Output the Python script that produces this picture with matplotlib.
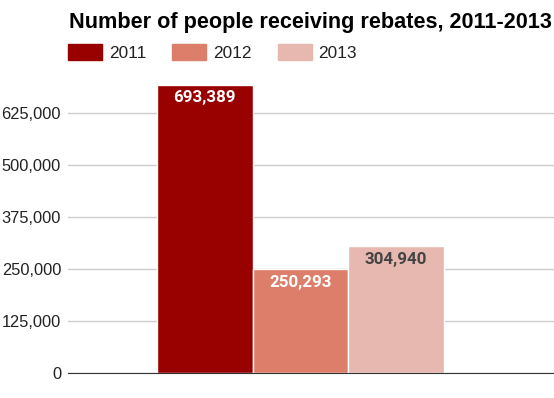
import matplotlib
matplotlib.use('Agg')
import matplotlib.pyplot as plt
from matplotlib.ticker import FuncFormatter

years = ['2011', '2012', '2013']
people = [693389, 250293, 304940]
colors = ['#990000', '#dd7e6b', '#e6b8af']
label_colors = ['white', 'white', '#444444']
yticks = [0, 125000, 250000, 375000, 500000, 625000]

plt.rcParams['font.family'] = ['Liberation Sans', 'DejaVu Sans']

fig = plt.figure(figsize=(5.54, 3.98), dpi=100)
ax = fig.add_axes([68 / 554, 1 - 373.3 / 398, 1 - 68 / 554, (373.3 - 61.3) / 398])

# one bar per year, side by side in a single group
positions = range(len(years))
bars = ax.bar(positions, people, width=1.0, color=colors, edgecolor='white', linewidth=1, zorder=3)

for bar, val, lc in zip(bars, people, label_colors):
    ax.annotate(f'{val:,}', (bar.get_x() + bar.get_width() / 2, val),
                xytext=(0, -4), textcoords='offset points', ha='center', va='top',
                fontsize=12.2, fontweight='bold', color=lc, zorder=4,
                family=['Roboto', 'DejaVu Sans'])

ax.set_xlim(-1.43, 3.65)
ax.set_ylim(0, 750000)
ax.set_yticks(yticks)
ax.yaxis.set_major_formatter(FuncFormatter(lambda v, p: f'{int(v):,}'))
ax.tick_params(axis='y', length=0, labelsize=11.8, labelcolor='#222222', pad=5)
ax.set_xticks([])
ax.grid(axis='y', color='#cccccc', linewidth=1, zorder=0)
for side in ['top', 'right', 'left']:
    ax.spines[side].set_visible(False)
ax.spines['bottom'].set_color('#333333')
ax.spines['bottom'].set_zorder(5)

fig.text(69 / 554, 1 - 28 / 398, 'Number of people receiving rebates, 2011-2013',
         fontsize=15.6, fontweight='bold', color='black', ha='left', va='baseline')

handles = [plt.Rectangle((0, 0), 1, 1, color=c) for c in colors]
fig.legend(handles, years, loc='upper left', bbox_to_anchor=(56 / 554, 1 - 32 / 398),
           ncol=3, frameon=False, fontsize=12.4, handlelength=1.98, handleheight=1.05,
           handletextpad=0.4, columnspacing=1.5, labelcolor='#222222', borderpad=0.2)

fig.savefig('out.png', dpi=100)
